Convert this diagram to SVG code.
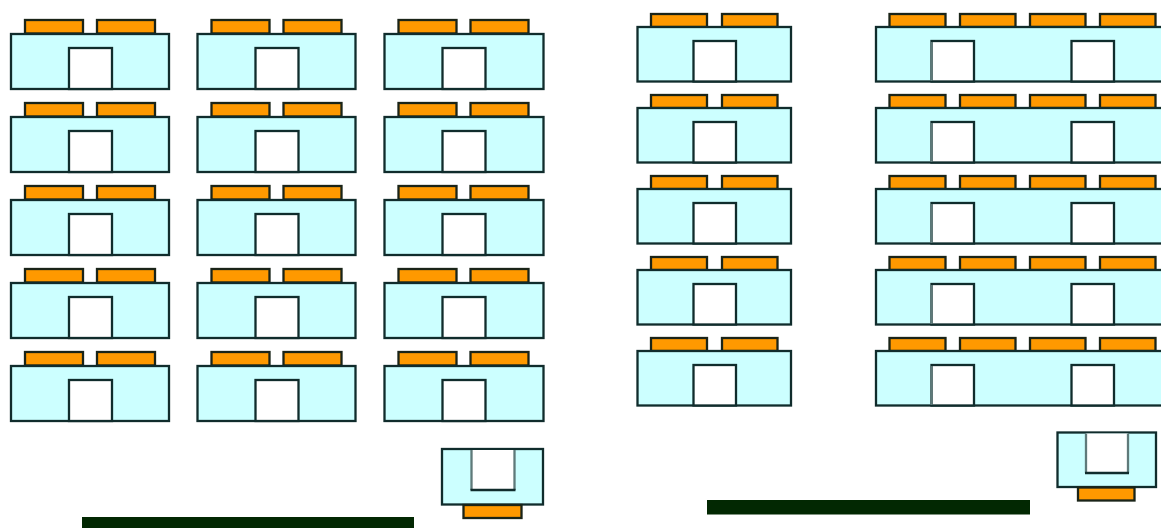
<svg xmlns="http://www.w3.org/2000/svg" width="1161" height="528" viewBox="0 0 1161 528">
<style>
.b{fill:#ccffff;stroke:#102c2c;stroke-width:2.300}
.o{fill:#ff9900;stroke:#1a2418;stroke-width:2.300}
.w{fill:#fff;stroke:#102c2c;stroke-width:2.300}
.g{fill:none;stroke:#5f7a7a;stroke-width:2.300}
.d{fill:#022802;stroke:none}
</style>
<defs>
<g id="dl"><rect class="o" x="25" y="20" width="58" height="13.500"/><rect class="o" x="97" y="20" width="58" height="13.500"/><rect class="b" x="11" y="34" width="158" height="55"/><rect class="w" x="69" y="48" width="43" height="41"/></g>
<g id="dl3"><rect class="o" x="25" y="20" width="58" height="13.500"/><rect class="o" x="97" y="20" width="58" height="13.500"/><rect class="b" x="11" y="34" width="159" height="55"/><rect class="w" x="69" y="48" width="43" height="41"/></g>
<g id="dr"><rect class="o" x="651" y="14" width="56" height="13"/><rect class="o" x="722" y="14" width="55.500" height="13"/><rect class="b" x="637.500" y="27" width="153.500" height="54.500"/><rect class="w" x="693.500" y="41" width="42.500" height="40.500"/></g>
<g id="dw"><rect class="o" x="889.500" y="14" width="56" height="13"/><rect class="o" x="960" y="14" width="55.500" height="13"/><rect class="o" x="1030" y="14" width="55.500" height="13"/><rect class="o" x="1100" y="14" width="55.500" height="13"/><rect class="b" x="876" y="27" width="290" height="54.500"/><rect class="w" x="931.500" y="41" width="42.500" height="40.500"/><path class="g" d="M931.500 42V81"/><rect class="w" x="1071.500" y="41" width="42.500" height="40.500"/></g>
</defs>
<g id="left-block">
<g id="l-1-1"><use href="#dl"/></g><g id="l-1-2"><use href="#dl" x="186.500"/></g><g id="l-1-3"><use href="#dl3" x="373.500"/></g>
<g id="l-2-1"><use href="#dl" y="83"/></g><g id="l-2-2"><use href="#dl" x="186.500" y="83"/></g><g id="l-2-3"><use href="#dl3" x="373.500" y="83"/></g>
<g id="l-3-1"><use href="#dl" y="166"/></g><g id="l-3-2"><use href="#dl" x="186.500" y="166"/></g><g id="l-3-3"><use href="#dl3" x="373.500" y="166"/></g>
<g id="l-4-1"><use href="#dl" y="249"/></g><g id="l-4-2"><use href="#dl" x="186.500" y="249"/></g><g id="l-4-3"><use href="#dl3" x="373.500" y="249"/></g>
<g id="l-5-1"><use href="#dl" y="332"/></g><g id="l-5-2"><use href="#dl" x="186.500" y="332"/></g><g id="l-5-3"><use href="#dl3" x="373.500" y="332"/></g>
</g>
<g id="right-block">
<g id="r-1-1"><use href="#dr"/></g><g id="r-1-2"><use href="#dw"/></g>
<g id="r-2-1"><use href="#dr" y="81"/></g><g id="r-2-2"><use href="#dw" y="81"/></g>
<g id="r-3-1"><use href="#dr" y="162"/></g><g id="r-3-2"><use href="#dw" y="162"/></g>
<g id="r-4-1"><use href="#dr" y="243"/></g><g id="r-4-2"><use href="#dw" y="243"/></g>
<g id="r-5-1"><use href="#dr" y="324"/></g><g id="r-5-2"><use href="#dw" y="324"/></g>
</g>
<g id="podium-left"><rect class="b" x="442" y="449" width="101" height="55.500"/><rect x="471.500" y="450" width="43" height="40" fill="#fff"/><path class="g" d="M471.500 450V490M514.500 450V490"/><path class="w" d="M470.500 490H515.500"/><rect class="o" x="463.500" y="505" width="58" height="13"/></g>
<g id="podium-right"><rect class="b" x="1057.500" y="432.500" width="98.500" height="54.500"/><rect x="1086" y="433.500" width="42" height="40" fill="#fff"/><path class="g" d="M1086 433.500V473M1128 433.500V473"/><path class="w" d="M1085 473H1129"/><rect class="o" x="1078" y="487.500" width="56.500" height="13"/></g>
<g id="bar-left"><rect class="d" x="82" y="517" width="332" height="11"/></g>
<g id="bar-right"><rect class="d" x="707" y="500" width="323" height="14.500"/></g>
</svg>
